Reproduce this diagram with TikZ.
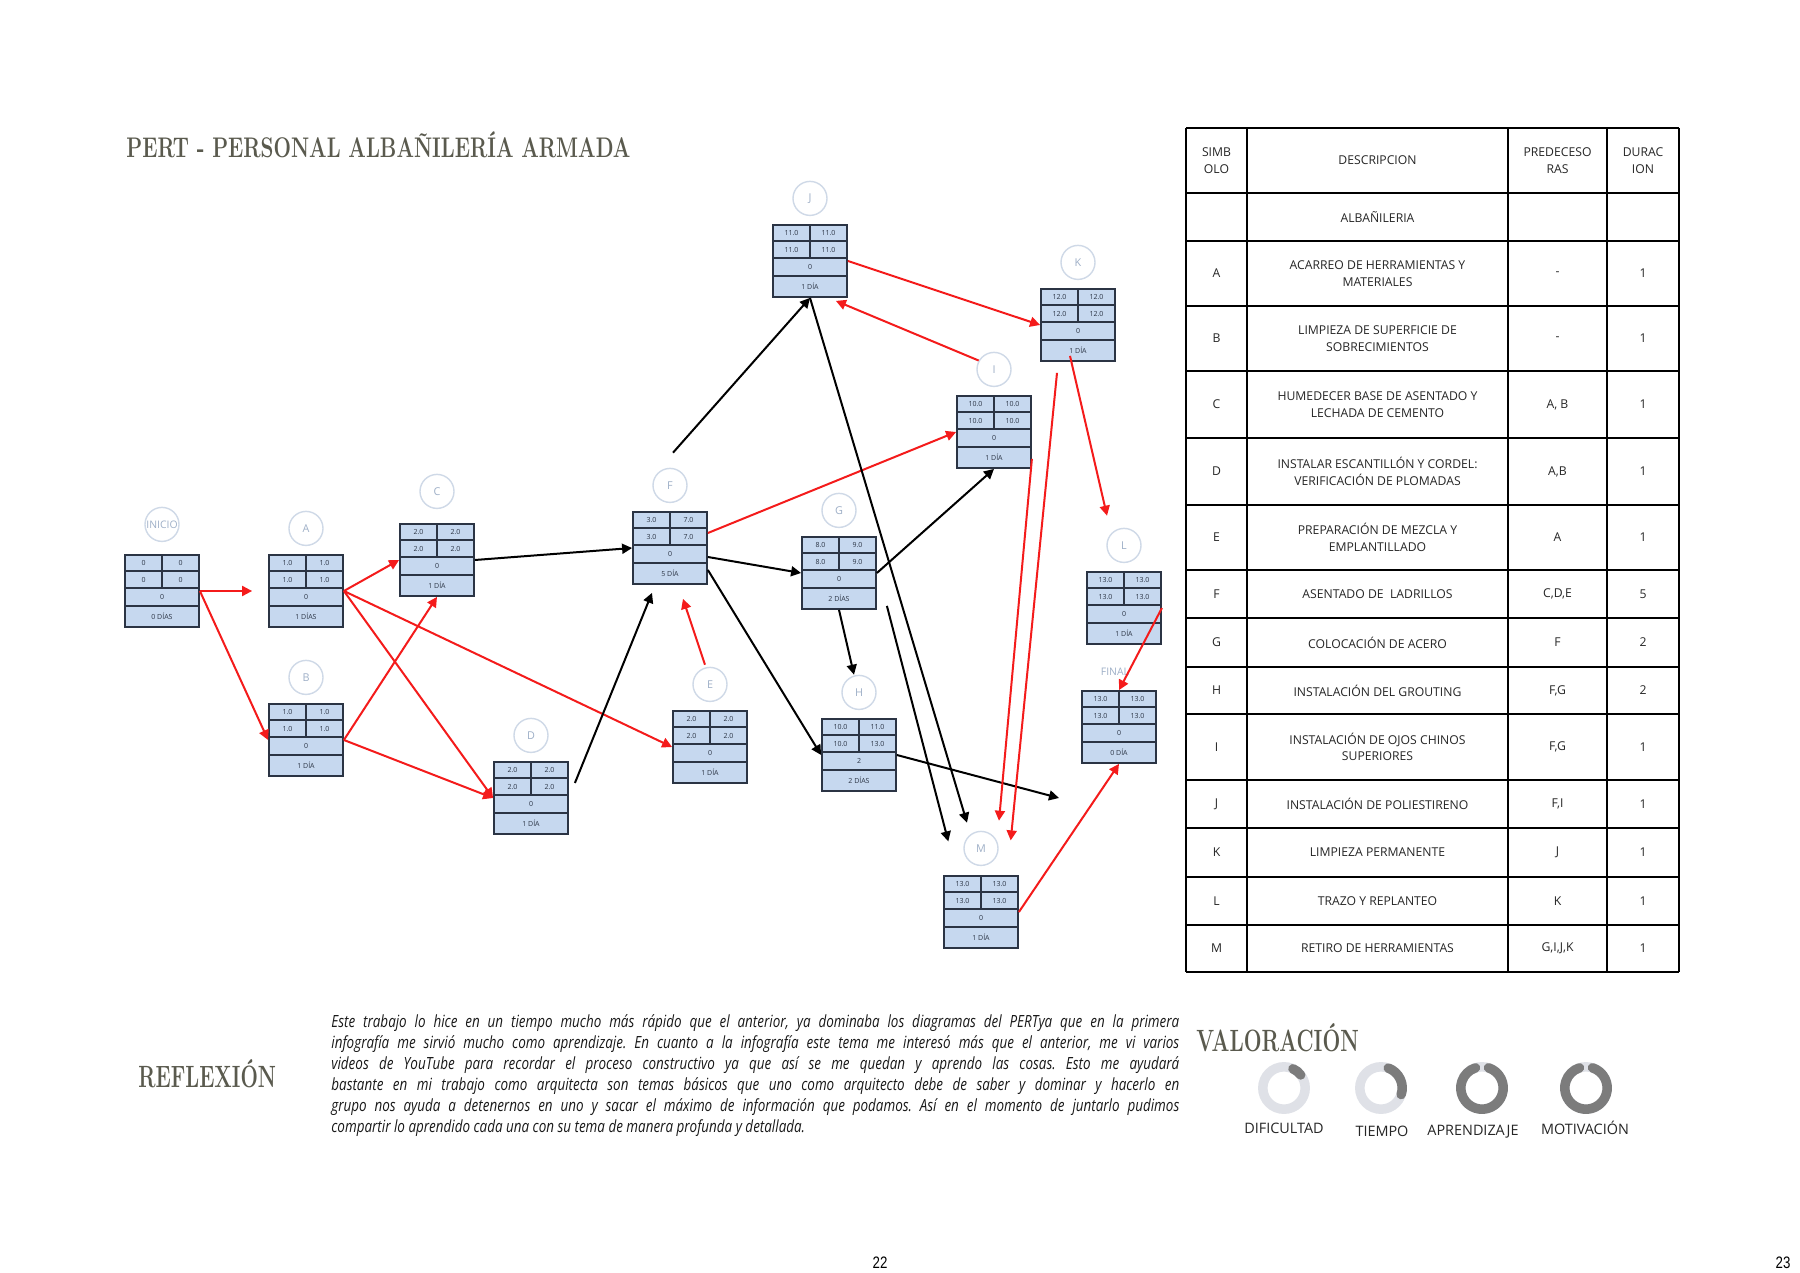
\documentclass[tikz,border=0pt]{standalone}
\usepackage{fontspec}
\usepackage{graphicx}
\usepackage{xcolor}
\usepackage{tikz}
\usetikzlibrary{arrows.meta,positioning}

\newfontfamily\opensans{Open Sans}
\newfontfamily\reflfont{Open Sans}[FakeStretch=0.8]
\newfontfamily\pagefont{Liberation Sans}

\definecolor{cajafill}{HTML}{C6D8EF}
\definecolor{cajaline}{HTML}{2B3444}
\definecolor{circline}{HTML}{CFD9E7}
\definecolor{circtext}{HTML}{9EAFC7}
\definecolor{critico}{HTML}{F41B1B}
\definecolor{titulo}{HTML}{5A5A4E}
\definecolor{anillo}{HTML}{DFE1E7}
\definecolor{anillodark}{HTML}{7C7C7C}

% caja PERT: nombre, posicion, IC, TC, IL, TL, holgura, duracion
\newcommand{\cajapert}[8]{%
  \node[caja] (#1) at (#2) {};
  \draw[cajaline, line width=0.9pt] ([yshift=-8.5pt]#1.north west) -- ([yshift=-8.5pt]#1.north east);
  \draw[cajaline, line width=0.9pt] ([yshift=-17pt]#1.north west) -- ([yshift=-17pt]#1.north east);
  \draw[cajaline, line width=0.9pt] ([yshift=-26pt]#1.north west) -- ([yshift=-26pt]#1.north east);
  \draw[cajaline, line width=0.9pt] (#1.north) -- ([yshift=-17pt]#1.north);
  \node[celda] (#1-ic) at ([xshift=-9.25pt,yshift=-4.25pt]#1.north) {#3};
  \node[celda] (#1-tc) at ([xshift=9.25pt,yshift=-4.25pt]#1.north) {#4};
  \node[celda] (#1-il) at ([xshift=-9.25pt,yshift=-12.75pt]#1.north) {#5};
  \node[celda] (#1-tl) at ([xshift=9.25pt,yshift=-12.75pt]#1.north) {#6};
  \node[celda] (#1-h) at ([yshift=-21.5pt]#1.north) {#7};
  \node[celda] (#1-d) at ([yshift=-31pt]#1.north) {#8};
}

\begin{document}
\begin{tikzpicture}[
    x=0.5pt, y=-0.5pt,
    caja/.style={rectangle, draw=cajaline, line width=0.9pt, fill=cajafill, minimum width=37pt, minimum height=36pt, inner sep=0pt},
    celda/.style={inner sep=0pt, text=cajaline, font=\opensans\fontsize{3.5}{3.5}\selectfont},
    evento/.style={circle, draw=circline, line width=0.7pt, minimum size=17pt, inner sep=0pt, text=circtext, font=\opensans\fontsize{5.4}{5.4}\selectfont},
    evtexto/.style={inner sep=0pt, text=circtext, font=\opensans\fontsize{5.2}{5.2}\selectfont},
    crit/.style={draw=critico, line width=1pt, -{Triangle[length=5pt,width=5pt]}},
    norm/.style={draw=black, line width=1pt, -{Triangle[length=5pt,width=5pt]}},
    tabla/.style={inner sep=0pt, align=center, text=black!85, font=\opensans\fontsize{6.1}{8.3}\selectfont},
    cabecera/.style={inner sep=0pt, text=titulo, font=\rmfamily\bfseries},
    valor/.style={inner sep=0pt, text=black!85, font=\opensans\fontsize{7.2}{7.2}\selectfont}
]
    \fill[white] (0,0) rectangle (1800,1273);
    \useasboundingbox (0,0) rectangle (1800,1273);

    % Titulo
    \node[cabecera, anchor=base west] (titulo) at (126,158) {\scalebox{0.727}[1]{\fontsize{14.2}{14.2}\selectfont PERT - PERSONAL ALBAÑILERÍA ARMADA}};

    % Cajas
    \cajapert{inicio}{162,591}{0}{0}{0}{0}{0}{0 DÍAS}
    \cajapert{A}{306,591}{1.0}{1.0}{1.0}{1.0}{0}{1 DÍAS}
    \cajapert{B}{306,740}{1.0}{1.0}{1.0}{1.0}{0}{1 DÍA}
    \cajapert{C}{437,560}{2.0}{2.0}{2.0}{2.0}{0}{1 DÍA}
    \cajapert{D}{531,798}{2.0}{2.0}{2.0}{2.0}{0}{1 DÍA}
    \cajapert{E}{710,747}{2.0}{2.0}{2.0}{2.0}{0}{1 DÍA}
    \cajapert{F}{670,548}{3.0}{7.0}{3.0}{7.0}{0}{5 DÍA}
    \cajapert{G}{839,573}{8.0}{9.0}{8.0}{9.0}{0}{2 DÍAS}
    \cajapert{H}{859,755}{10.0}{11.0}{10.0}{13.0}{2}{2 DÍAS}
    \cajapert{I}{994,432}{10.0}{10.0}{10.0}{10.0}{0}{1 DÍA}
    \cajapert{J}{810,261}{11.0}{11.0}{11.0}{11.0}{0}{1 DÍA}
    \cajapert{K}{1078,325}{12.0}{12.0}{12.0}{12.0}{0}{1 DÍA}
    \cajapert{L}{1124,608}{13.0}{13.0}{13.0}{13.0}{0}{1 DÍA}
    \cajapert{final}{1119,727}{13.0}{13.0}{13.0}{13.0}{0}{0 DÍA}
    \cajapert{M}{981,912}{13.0}{13.0}{13.0}{13.0}{0}{1 DÍA}

    % Eventos
    \node[evento, above=6pt of inicio, label={[evtexto]center:INICIO}] (cinicio) {};
    \node[evento, above=4pt of A] (cA) {A};
    \node[evento, above=4pt of B] (cB) {B};
    \node[evento, above=7pt of C] (cC) {C};
    \node[evento, above=4pt of D] (cD) {D};
    \node[evento, above=4pt of E] (cE) {E};
    \node[evento, above=4pt of F] (cF) {F};
    \node[evento, above=4pt of G] (cG) {G};
    \node[evento, above=4pt of H] (cH) {H};
    \node[evento, above=4pt of I] (cI) {I};
    \node[evento, above=4pt of J] (cJ) {J};
    \node[evento, above=4pt of K] (cK) {K};
    \node[evento, above=4pt of L] (cL) {L};
    \node[evento, above=4.5pt of M] (cM) {M};
    \node[evtexto, above=7pt of final, xshift=-2pt] (lfinal) {FINAL};
    \coordinate (hfin) at (1059,798);

    % Conexiones
    \draw[crit] (inicio.east) -- ([xshift=-8pt]A.west);
    \draw[crit] (inicio.east) -- (B.west);
    \draw[crit] (A.east) -- (C.west);
    \draw[crit] (A.east) -- (E.west);
    \draw[crit] (A.east) -- (D.west);
    \draw[crit] (B.east) -- (C.south);
    \draw[crit] (B.east) -- (D.west);
    \draw[norm] (C.east) -- (F.west);
    \draw[norm] ([xshift=3pt,yshift=7.5pt]D.east) -- ([xshift=-9pt,yshift=-4pt]F.south);
    \draw[crit] ([xshift=-2.5pt,yshift=1pt]cE.north) -- ([xshift=6.5pt,yshift=-7pt]F.south);
    \draw[norm] ([xshift=1.5pt,yshift=7.5pt]cF.north) -- (J.south);
    \draw[crit] ([yshift=7.5pt]F.east) -- (I.west);
    \draw[norm] ([yshift=-4.5pt]F.east) -- (G.west);
    \draw[norm] ([yshift=-11pt]F.east) -- (H.west);
    \draw[norm] (G.east) -- (I.south);
    \draw[norm] (G.south) -- ([xshift=-2.5pt]cH.north);
    \draw[norm] ([xshift=5pt,yshift=2pt]G.south east) -- ([xshift=-7.5pt,yshift=3.5pt]cM.west);
    \draw[norm] (J.south) -- ([xshift=-7pt,yshift=4pt]cM.north);
    \draw[norm] (H.east) -- (hfin);
    \draw[crit] (J.east) -- (K.west);
    \draw[crit] (cI.150) -- ([xshift=-6pt,yshift=-1.5pt]J.south east);
    \draw[crit] ([xshift=-4pt,yshift=3pt]K.south) -- ([xshift=-8.5pt,yshift=6pt]cL.north);
    \draw[crit] ([yshift=5pt]I.south east) -- ([xshift=9pt,yshift=5pt]cM.north);
    \draw[crit] ([xshift=-10.5pt,yshift=-5.5pt]K.south) -- ([xshift=6pt,yshift=4pt]cM.east);
    \draw[crit] (L.east) -- (final.north);
    \draw[crit] (M.east) -- (final.south);

    % Tabla
    \foreach \x in {1186,1247,1508,1607,1679}
        \draw[line width=1pt] (\x,128) -- (\x,972);
    \foreach \y in {128,193,241,306,371,438,505,570,618,667,714,780,828,877,925,972}
        \draw[line width=1pt] (1186,\y) -- (1679,\y);
    \foreach \ya/\yb/\s/\d/\p/\t [count=\r] in {
        128/193/{SIMB\\OLO}/DESCRIPCION/{PREDECESO\\RAS}/{DURAC\\ION},
        193/241/{}/ALBAÑILERIA/{}/{},
        241/306/A/{ACARREO DE HERRAMIENTAS Y\\MATERIALES}/-/1,
        306/371/B/{LIMPIEZA DE SUPERFICIE DE\\SOBRECIMIENTOS}/-/1,
        371/438/C/{HUMEDECER BASE DE ASENTADO Y\\LECHADA DE CEMENTO}/{A, B}/1,
        438/505/D/{INSTALAR ESCANTILLÓN Y CORDEL:\\VERIFICACIÓN DE PLOMADAS}/{A,B}/1,
        505/570/E/{PREPARACIÓN DE MEZCLA Y\\EMPLANTILLADO}/A/1,
        570/618/F/{ASENTADO DE\ \ LADRILLOS}/{C,D,E}/5,
        618/667/G/{COLOCACIÓN DE ACERO}/F/2,
        667/714/H/{INSTALACIÓN DEL GROUTING}/{F,G}/2,
        714/780/I/{INSTALACIÓN DE OJOS CHINOS\\SUPERIORES}/{F,G}/1,
        780/828/J/{INSTALACIÓN DE POLIESTIRENO}/{F,I}/1,
        828/877/K/{LIMPIEZA PERMANENTE}/J/1,
        877/925/L/{TRAZO Y REPLANTEO}/K/1,
        925/972/M/{RETIRO DE HERRAMIENTAS}/{G,I,J,K}/1}
    {
        \node[tabla] (sim\r) at (1216.5,{(\ya+\yb)/2}) {\s};
        \node[tabla] (des\r) at (1377.5,{(\ya+\yb)/2}) {\d};
        \node[tabla] (pre\r) at (1557.5,{(\ya+\yb)/2}) {\p};
        \node[tabla] (dur\r) at (1643,{(\ya+\yb)/2}) {\t};
    }

    % Reflexion
    \node[cabecera, anchor=base west] (reflexion) at (138,1087) {\scalebox{0.668}[1]{\fontsize{15.4}{15.4}\selectfont REFLEXIÓN}};
    \node[anchor=north west, inner sep=0pt, text width=424pt, align=justify, text=black!90,
          font=\reflfont\itshape\fontsize{8.4}{10.5}\selectfont\frenchspacing] (texto) at (331,1014)
        {Este trabajo lo hice en un tiempo mucho más rápido que el anterior, ya dominaba los diagramas del PERTya que en la primera\linebreak
         infografía me sirvió mucho como aprendizaje. En cuanto a la infografía este tema me interesó más que el anterior, me vi varios\linebreak
         videos de YouTube para recordar el proceso constructivo ya que así se me quedan y aprendo las cosas. Esto me ayudará\linebreak
         bastante en mi trabajo como arquitecta son temas básicos que uno como arquitecto debe de saber y dominar y hacerlo en\linebreak
         grupo nos ayuda a detenernos en uno y sacar el máximo de información que podamos. Así en el momento de juntarlo pudimos\linebreak
         compartir lo aprendido cada una con su tema de manera profunda y detallada.};

    % Valoracion
    \node[cabecera, anchor=base west] (valoracion) at (1196,1051) {\scalebox{0.684}[1]{\fontsize{15.4}{15.4}\selectfont VALORACIÓN}};
    \foreach \cx/\ini/\fin/\nom/\lx/\ly [count=\v] in {1284/65/38/DIFICULTAD/1284/1128, 1381/70/-18/TIEMPO/1382/1131, 1482/72/-252/APRENDIZAJE/1473/1132, 1586/72/-252/MOTIVACIÓN/1585/1128}
    {
        \coordinate (dona\v) at (\cx,1088);
        \draw[anillo, line width=4.75pt] (dona\v) circle[radius=10.6pt];
        \draw[anillodark, line width=4.75pt, line cap=round] ([shift={(\ini:10.6pt)}]dona\v) arc[start angle=\ini, end angle=\fin, radius=10.6pt];
        \node[valor] (lbl\v) at (\lx,\ly) {\nom};
    }

    % Paginas
    \node[inner sep=0pt, font=\pagefont\fontsize{8.3}{8.3}\selectfont] (pag22) at (880,1263) {\scalebox{0.8}[1]{22}};
    \node[inner sep=0pt, font=\pagefont\fontsize{8.3}{8.3}\selectfont] (pag23) at (1783,1263) {\scalebox{0.8}[1]{23}};
\end{tikzpicture}
\end{document}
